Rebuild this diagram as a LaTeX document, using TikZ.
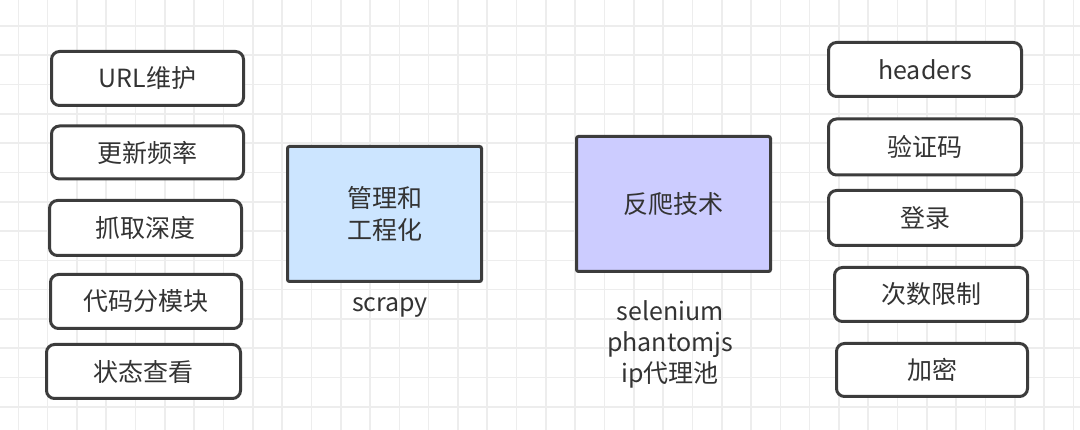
\documentclass[tikz,border=0pt]{standalone}
\usepackage{fontspec}
\setmainfont{Noto Sans CJK SC}
\definecolor{txt}{HTML}{333333}
\definecolor{edge}{HTML}{3C3C3C}
\definecolor{gridc}{HTML}{EDEDED}
\definecolor{bluefill}{HTML}{CCE5FF}
\definecolor{lavfill}{HTML}{CCCCFF}
\begin{document}
\begin{tikzpicture}[x=1pt,y=-1pt,
  gridline/.style={draw=gridc,line width=1.6pt},
  rbox/.style={draw=edge,line width=3pt,rounded corners=8pt,fill=white,text=txt,
    font=\fontsize{25}{31}\selectfont,inner sep=0pt},
  bigbox/.style={draw=edge,line width=3pt,rounded corners=2pt,text=txt,align=center,
    minimum width=194pt,minimum height=135pt,
    font=\fontsize{25}{32}\selectfont,inner sep=0pt},
  lbl/.style={text=txt,align=center,font=\fontsize{25}{31}\selectfont,inner sep=0pt}]
\useasboundingbox (0,0) rectangle (1080,430);
\fill[white] (0,0) rectangle (1080,430);
\foreach \k in {0,...,36} \draw[gridline] ({18.3+29.31*\k},0) -- ++(0,430);
\foreach \k in {0,...,13} \draw[gridline] (0,{26+29.3*\k}) -- ++(1080,0);
% left column
\node[rbox,minimum width=192pt,minimum height=54pt] (a1) at (147.5,78.5) {URL维护};
\node[rbox,minimum width=192pt,minimum height=53pt] (a2) at (147.5,152.5) {更新频率};
\node[rbox,minimum width=192pt,minimum height=55pt] (a3) at (145.5,228) {抓取深度};
\node[rbox,minimum width=191pt,minimum height=54pt] (a4) at (146,301.5) {代码分模块};
\node[rbox,minimum width=194pt,minimum height=54pt] (a5) at (143.5,371.5) {状态查看};
% middle
\node[bigbox,fill=bluefill] (b1) at (384.5,214) {管理和\\工程化};
\node[lbl] (lb1) at (390,307) {scrapy};
\node[bigbox,fill=lavfill] (b2) at (673.5,204) {反爬技术};
\node[lbl] (lb2) at (670,344) {selenium\\phantomjs\\ip代理池};
% right column
\node[rbox,minimum width=193pt,minimum height=54pt] (c1) at (925,69.5) {headers};
\node[rbox,minimum width=193pt,minimum height=56pt] (c2) at (925,147) {验证码};
\node[rbox,minimum width=193pt,minimum height=55pt] (c3) at (925,218) {登录};
\node[rbox,minimum width=193pt,minimum height=54pt] (c4) at (931,294.5) {次数限制};
\node[rbox,minimum width=191pt,minimum height=53pt] (c5) at (932,370) {加密};
\end{tikzpicture}
\end{document}
